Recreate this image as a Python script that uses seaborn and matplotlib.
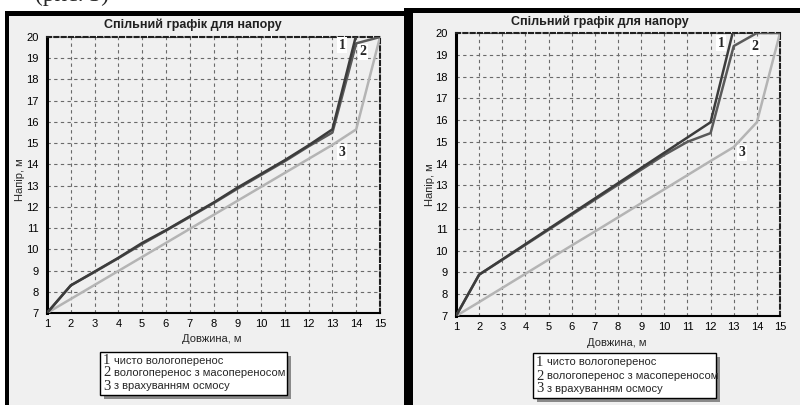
import numpy as np
import seaborn as sns
import matplotlib.pyplot as plt
from matplotlib.patches import Rectangle
from matplotlib.ticker import MultipleLocator

# values
x_all = [1, 2, 3, 4, 5, 6, 7, 8, 9, 10, 11, 12, 13, 14, 15]

left_x1 = [1, 2, 3, 4, 5, 6, 7, 8, 9, 10, 11, 12, 13, 14]
left_y1 = [7, 8.3, 8.95, 9.6, 10.3, 10.9, 11.55, 12.2, 12.9, 13.55, 14.2, 14.9, 15.65, 20.1]
left_y2 = [7, 8.3, 8.93, 9.58, 10.25, 10.88, 11.52, 12.17, 12.85, 13.5, 14.15, 14.85, 15.5, 19.7, 20]
left_y3 = [7, 7.66, 8.32, 8.98, 9.64, 10.3, 10.96, 11.62, 12.28, 12.94, 13.6, 14.26, 14.92, 15.65, 20]

right_x1 = [1, 2, 3, 4, 5, 6, 7, 8, 9, 10, 11, 12, 13]
right_y1 = [7, 8.9, 9.6, 10.3, 11.0, 11.7, 12.4, 13.1, 13.8, 14.5, 15.2, 15.9, 20.2]
right_y2 = [7, 8.9, 9.58, 10.27, 10.96, 11.65, 12.34, 13.03, 13.72, 14.4, 15.0, 15.4, 19.4, 20, 20]
right_y3 = [7, 7.64, 8.29, 8.94, 9.59, 10.24, 10.88, 11.53, 12.18, 12.82, 13.47, 14.12, 14.76, 15.9, 20]

y_ticks = list(range(7, 21))
title = 'Спільний графік для напору'
xlabel = 'Довжина, м'
ylabel = 'Напір, м'
legend_items = ['чисто вологоперенос', 'вологоперенос з масопереносом', 'з врахуванням осмосу']

c1, c2, c3 = '#3c3c3c', '#5a5a5a', '#b4b4b4'

sns.set_style('white')
plt.rcParams['font.family'] = ['Liberation Sans', 'DejaVu Sans']

W, H = 800, 405
fig = plt.figure(figsize=(8, 4.05), dpi=100)
fig.patch.set_facecolor('white')


def px_rect(x0, y0, x1, y1, z, **kw):
    # rectangle given in pixel coords (origin top-left)
    fig.patches.append(Rectangle((x0 / W, 1 - y1 / H), (x1 - x0) / W, (y1 - y0) / H,
                                 transform=fig.transFigure, figure=fig, zorder=z, **kw))


# panel frames (behind the axes)
px_rect(5, 11, 406, 405, -10, facecolor='black', lw=0)
px_rect(9, 16, 404, 405, -9, facecolor='#f0f0f0', lw=0)
px_rect(404, 8, 800, 405, -10, facecolor='black', lw=0)
px_rect(413, 13, 800, 405, -9, facecolor='#f0f0f0', lw=0)
# caption of the page, mostly cut off by the top edge
fig.text(35 / W, 1 - 0.5 / H, '(рис. 3)', family='Liberation Serif', fontsize=17, va='baseline')


def make_panel(rect, xs1, y1, y2, y3, tags, title_pos, xlab_pos, ylab_pos):
    ax = fig.add_axes(rect)
    ax.set_facecolor('#f0f0f0')
    sns.lineplot(x=x_all, y=y3, ax=ax, color=c3, lw=1.8, zorder=3)
    sns.lineplot(x=x_all, y=y2, ax=ax, color=c2, lw=1.8, zorder=4)
    sns.lineplot(x=xs1, y=y1, ax=ax, color=c1, lw=1.8, zorder=5)
    ax.set_xlim(1, 15)
    ax.set_ylim(7, 20)
    ax.set_xticks(x_all)
    ax.set_yticks(y_ticks)
    ax.xaxis.set_minor_locator(MultipleLocator(0.2))
    ax.tick_params(axis='both', labelsize=8, colors='black', length=4, width=0.8, pad=2)
    ax.tick_params(axis='x', which='minor', direction='in', length=3, width=0.8)
    ax.tick_params(axis='x', which='major', direction='inout', length=5)
    ax.grid(True, ls=(0, (3, 3)), color='#6a6a6a', lw=0.8)
    for s in ['top', 'right']:
        ax.spines[s].set_linestyle((0, (2, 1.5)))
        ax.spines[s].set_linewidth(1.5)
        ax.spines[s].set_color('#202020')
    ax.spines['left'].set_linewidth(2.2)
    ax.spines['left'].set_color('black')
    ax.spines['bottom'].set_linewidth(1.5)
    ax.spines['bottom'].set_color('black')
    for (tx, ty, t) in tags:
        ax.text(tx, ty, t, family='Liberation Serif', fontweight='bold', fontsize=10,
                ha='center', va='center', zorder=6,
                bbox=dict(facecolor='white', edgecolor='none', pad=1))
    fig.text(title_pos[0] / W, 1 - title_pos[1] / H, title, fontsize=9, fontweight='bold',
             ha='center', va='center', color='#202020')
    fig.text(xlab_pos[0] / W, 1 - xlab_pos[1] / H, xlabel, fontsize=8, ha='center', va='center')
    fig.text(ylab_pos[0] / W, 1 - ylab_pos[1] / H, ylabel, fontsize=8, ha='center', va='center',
             rotation=90)
    return ax


make_panel([47 / W, 1 - 313 / H, 333 / W, 276 / H], left_x1, left_y1, left_y2, left_y3,
           [(13.4, 19.62, '1'), (14.3, 19.3, '2'), (13.4, 14.58, '3')],
           (193, 25), (212, 339), (20, 180))
make_panel([456 / W, 1 - 316 / H, 324 / W, 283 / H], right_x1, right_y1, right_y2, right_y3,
           [(12.45, 19.54, '1'), (13.92, 19.36, '2'), (13.36, 14.49, '3')],
           (600, 22), (617, 343), (430, 185))


def legend_box(x0, y0, x1, y1, rows):
    px_rect(x0 + 4, y0 + 4, x1 + 4, y1 + 4, 5, facecolor='#8a8a8a', lw=0)
    px_rect(x0, y0, x1, y1, 6, facecolor='white', edgecolor='black', lw=1)
    for i, (yy, label) in enumerate(zip(rows, legend_items)):
        fig.text((x0 + 3) / W, 1 - yy / H, str(i + 1), family='Liberation Serif', fontsize=10.5,
                 va='center', zorder=7)
        fig.text((x0 + 14) / W, 1 - yy / H, label, fontsize=8, va='center', zorder=7)


legend_box(100, 352, 287, 395, [361, 373, 386])
legend_box(533, 353, 716, 398, [362, 376, 389])

fig.savefig('out.png', dpi=100, facecolor='white')
